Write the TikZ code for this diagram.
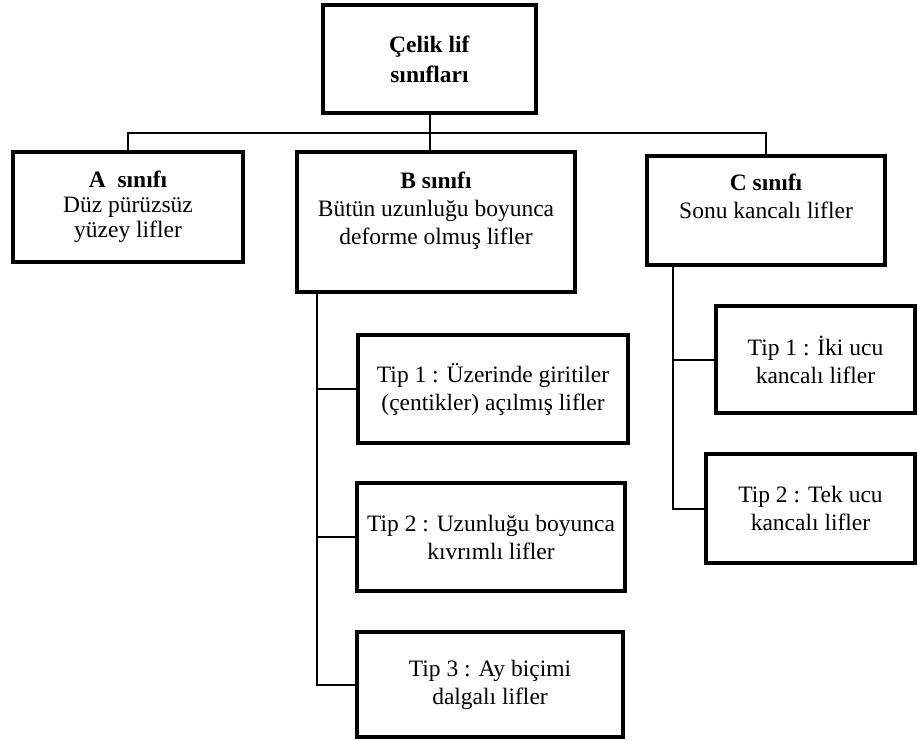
\documentclass[tikz,border=0pt]{standalone}
\usepackage{fontspec}
\setmainfont{Liberation Serif}
\begin{document}
\begin{tikzpicture}[x=1pt,y=-1pt,
  box/.style={draw=black, line width=3.6pt, fill=white, align=center, inner sep=0pt,
    font=\fontsize{23.5}{28}\selectfont},
  conn/.style={draw=black, line width=2pt}]
\useasboundingbox[fill=white] (0,0) rectangle (918,740);

\node[box, minimum width=213pt, minimum height=108pt] (top) at (429.5,59)
  {\textbf{Çelik lif}\\[2pt]\textbf{sınıfları}};
\node[box, minimum width=230pt, minimum height=110pt] (A) at (128,207)
  {\textbf{A\enspace sınıfı}\\[-3pt]Düz pürüzsüz\\[-3pt]yüzey lifler};
\node[box, minimum width=278pt, minimum height=140pt] (B) at (436,222)
  {\textbf{B sınıfı}\\Bütün uzunluğu boyunca\\deforme olmuş lifler\\\mbox{}};
\node[box, minimum width=238pt, minimum height=109pt] (C) at (766,210.5)
  {\textbf{C sınıfı}\\Sonu kancalı lifler\\\mbox{}};

\node[box, minimum width=270pt, minimum height=108pt] (B1) at (493,389)
  {Tip 1 : Üzerinde giritiler\\(çentikler) açılmış lifler};
\node[box, minimum width=268pt, minimum height=108pt] (B2) at (491,537)
  {Tip 2 : Uzunluğu boyunca\\kıvrımlı lifler};
\node[box, minimum width=266pt, minimum height=105pt] (B3) at (490,684.5)
  {Tip 3 : Ay biçimi\\dalgalı lifler};

\node[box, minimum width=199pt, minimum height=107pt] (C1) at (815.5,359.5)
  {Tip 1 : İki ucu\\kancalı lifler};
\node[box, minimum width=209pt, minimum height=109pt] (C2) at (810.5,508.5)
  {Tip 2 : Tek ucu\\kancalı lifler};

\coordinate (bus) at (0,133);
\coordinate (bx) at (317,0);
\coordinate (cx) at (673,0);

% connectors
\draw[conn] (top.south) -- (top.south |- B.north);
\draw[conn] (A.north) -- (A.north |- bus) -- (C.north |- bus) -- (C.north);

\draw[conn] (B.south -| bx) -- (bx |- B3.west) -- (B3.west);
\draw[conn] (bx |- B1.west) -- (B1.west);
\draw[conn] (bx |- B2.west) -- (B2.west);

\draw[conn] (C.south -| cx) -- (cx |- C2.west) -- (C2.west);
\draw[conn] (cx |- C1.west) -- (C1.west);
\end{tikzpicture}
\end{document}
